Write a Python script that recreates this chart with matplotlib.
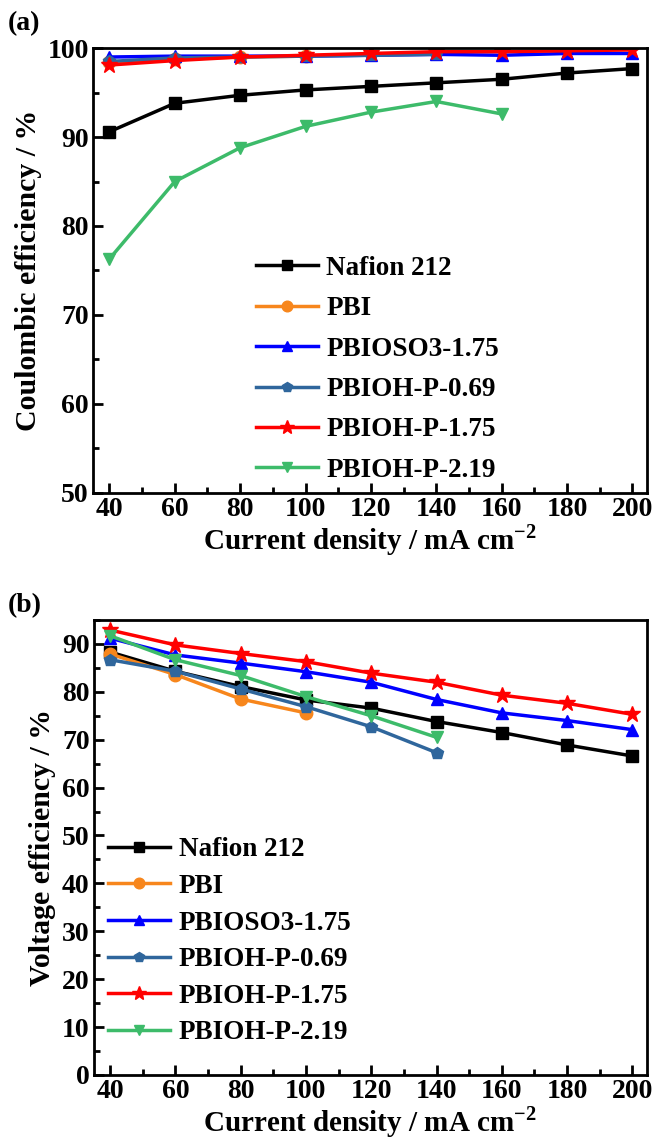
import numpy as np
import matplotlib
matplotlib.use("Agg")
import matplotlib.pyplot as plt
from matplotlib.ticker import MultipleLocator

plt.rcParams['font.family'] = ['Liberation Serif', 'DejaVu Serif']
plt.rcParams['font.weight'] = 'bold'
plt.rcParams['mathtext.fontset'] = 'custom'
plt.rcParams['mathtext.bf'] = 'Liberation Serif:bold'
plt.rcParams['mathtext.rm'] = 'Liberation Serif:bold'

# current densities
current = [40, 60, 80, 100, 120, 140, 160, 180, 200]

names = ['Nafion 212', 'PBI', 'PBIOSO3-1.75', 'PBIOH-P-0.69', 'PBIOH-P-1.75', 'PBIOH-P-2.19']
colors = ['black', '#f7861c', '#0000ff', '#2f669c', '#ff0000', '#3dbb6a']
markers = ['s', 'o', '^', 'p', '*', 'v']

# coulombic efficiency (%)
ce_nafion = [90.6, 93.8, 94.7, 95.3, 95.7, 96.1, 96.5, 97.2, 97.7]
ce_pbi = [98.4, 98.8, 99.0, 99.1]
ce_pbioso3 = [99.0, 99.1, 99.1, 99.1, 99.2, 99.3, 99.2, 99.4, 99.4]
ce_p069 = [98.5, 98.9, 99.0, 99.1, 99.2, 99.3]
ce_p175 = [98.1, 98.6, 99.0, 99.2, 99.4, 99.6, 99.6, 99.7, 99.8]
ce_p219 = [76.3, 85.0, 88.8, 91.2, 92.8, 94.0, 92.6]

# voltage efficiency (%)
ve_nafion = [88.3, 84.3, 81.1, 78.3, 76.6, 73.8, 71.5, 68.9, 66.6]
ve_pbi = [87.9, 83.6, 78.5, 75.6]
ve_pbioso3 = [91.2, 87.7, 86.0, 84.2, 82.0, 78.4, 75.6, 74.0, 72.1]
ve_p069 = [86.7, 84.3, 80.6, 76.9, 72.7, 67.3]
ve_p175 = [92.9, 89.8, 88.0, 86.3, 83.9, 82.0, 79.3, 77.6, 75.3]
ve_p219 = [91.7, 86.7, 83.4, 79.0, 75.0, 70.5]

ce_all = [ce_nafion, ce_pbi, ce_pbioso3, ce_p069, ce_p175, ce_p219]
ve_all = [ve_nafion, ve_pbi, ve_pbioso3, ve_p069, ve_p175, ve_p219]

fig = plt.figure(figsize=(6.65, 11.46), dpi=100)
ax1 = fig.add_axes([0.140, 0.570, 0.833, 0.388])
ax2 = fig.add_axes([0.141, 0.062, 0.832, 0.397])


def draw(ax, data):
    for vals, name, c, m in zip(data, names, colors, markers):
        ms = 12 if m == '*' else 9
        ax.plot(current[:len(vals)], vals, color=c, marker=m, markersize=ms,
                linewidth=2.5, label=name)
    ax.set_xlim(35, 204.5)
    ax.set_xticks(current)
    ax.xaxis.set_minor_locator(MultipleLocator(10))
    ax.yaxis.set_minor_locator(MultipleLocator(5))
    ax.tick_params(which='both', direction='in', top=False, right=False,
                   labelsize=20, width=2)
    ax.tick_params(which='major', length=7, pad=3)
    ax.tick_params(which='minor', length=4)
    for s in ax.spines.values():
        s.set_linewidth(2)
    ax.set_xlabel('Current density / mA cm$^{\\mathbf{-2}}$', fontsize=21,
                  fontweight='bold', labelpad=0)


draw(ax1, ce_all)
ax1.set_ylim(50, 100)
ax1.set_yticks([50, 60, 70, 80, 90, 100])
ax1.set_ylabel('Coulombic efficiency / %', fontsize=21.5, fontweight='bold', labelpad=4)
ax1.legend(loc='upper left', bbox_to_anchor=(0.25, 0.588), frameon=False,
           fontsize=19.5, handlelength=2.3, labelspacing=0.57, handletextpad=0.3,
           markerscale=0.85)

draw(ax2, ve_all)
ax2.set_ylim(0, 95)
ax2.set_yticks(np.arange(0, 91, 10))
ax2.set_ylabel('Voltage efficiency / %', fontsize=21.5, fontweight='bold', labelpad=4)
ax2.legend(loc='upper left', bbox_to_anchor=(-0.018, 0.576), frameon=False,
           fontsize=19.5, handlelength=2.3, labelspacing=0.43, handletextpad=0.3,
           markerscale=0.85)

fig.text(0.012, 0.974, '(a)', fontsize=20, fontweight='bold')
fig.text(0.012, 0.466, '(b)', fontsize=20, fontweight='bold')

fig.savefig('out.png', dpi=100)
